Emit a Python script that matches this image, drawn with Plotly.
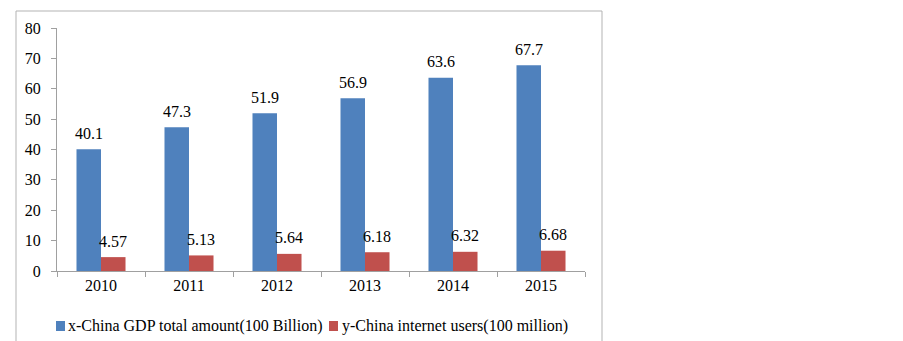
import plotly.graph_objects as go

years = ["2010", "2011", "2012", "2013", "2014", "2015"]
gdp = [40.1, 47.3, 51.9, 56.9, 63.6, 67.7]
users = [4.57, 5.13, 5.64, 6.18, 6.32, 6.68]
gdp_labels = ["40.1", "47.3", "51.9", "56.9", "63.6", "67.7"]
user_labels = ["4.57", "5.13", "5.64", "6.18", "6.32", "6.68"]
series_names = ["x-China GDP total amount(100 Billion)", "y-China internet users(100 million)"]
y_ticks = [0, 10, 20, 30, 40, 50, 60, 70, 80]

BLUE = "#4f81bd"
RED = "#c0504d"
FONT = "Liberation Serif, Times New Roman, serif"
AX = "#a0a0a0"

W, H = 903, 341
L, R, T, B = 49, 326, 20, 78
PW, PH = W - L - R, H - T - B


def px_x(p):
    return (p - L) / PW


def px_y(p):
    return (H - B - p) / PH


fig = go.Figure()
fig.add_bar(x=years, y=gdp, name=series_names[0], marker=dict(color=BLUE, line=dict(width=0)))
fig.add_bar(x=years, y=users, name=series_names[1], marker=dict(color=RED, line=dict(width=0)))

bar_w = PW / len(years) * (1 - 0.443) / 2
annotations = []
for i, (v, t) in enumerate(zip(gdp, gdp_labels)):
    annotations.append(dict(x=i, y=v, xref="x", yref="y", text=t, showarrow=False,
                            xshift=-bar_w / 2, yshift=5.5, yanchor="bottom",
                            font=dict(family=FONT, size=16, color="black")))
for i, (v, t) in enumerate(zip(users, user_labels)):
    annotations.append(dict(x=i, y=v, xref="x", yref="y", text=t, showarrow=False,
                            xshift=bar_w / 2, yshift=5.5, yanchor="bottom",
                            font=dict(family=FONT, size=16, color="black")))

# custom legend
legend_items = [(48, 58, BLUE, series_names[0]), (321, 332, RED, series_names[1])]
shapes = []
for sq_x, tx, col, name in legend_items:
    shapes.append(dict(type="rect", xref="paper", yref="paper",
                       x0=px_x(sq_x), x1=px_x(sq_x + 9), y0=px_y(323), y1=px_y(313),
                       fillcolor=col, line=dict(width=0)))
    annotations.append(dict(x=px_x(tx), y=px_y(317.5), xref="paper", yref="paper", text=name,
                            showarrow=False, xanchor="left", yanchor="middle",
                            font=dict(family=FONT, size=16, color="black")))

# chart frame
shapes.append(dict(type="rect", xref="paper", yref="paper",
                   x0=px_x(8), x1=px_x(594), y0=px_y(338.5), y1=px_y(3),
                   line=dict(color="#b3b3b3", width=1), fillcolor="rgba(0,0,0,0)", layer="below"))

fig.update_layout(
    width=W, height=H,
    margin=dict(l=L, r=R, t=T, b=B, pad=0),
    paper_bgcolor="white", plot_bgcolor="white",
    barmode="group", bargap=0.443, bargroupgap=0,
    showlegend=False,
    font=dict(family=FONT, size=16, color="black"),
    annotations=annotations,
    shapes=shapes,
)
fig.update_xaxes(type="category", range=[-0.5, len(years) - 0.5], tickangle=0,
                 showline=True, linecolor=AX, linewidth=1,
                 ticks="outside", tickson="boundaries", ticklen=5, tickcolor=AX,
                 showgrid=False, zeroline=False,
                 tickfont=dict(family=FONT, size=16, color="black"))
fig.update_yaxes(range=[0, 80], tickvals=y_ticks, showline=True, linecolor=AX, linewidth=1,
                 ticks="outside", ticklen=5, tickcolor=AX, showgrid=False, zeroline=False,
                 ticklabelstandoff=7,
                 tickfont=dict(family=FONT, size=16, color="black"))

fig.write_html("out.html")
